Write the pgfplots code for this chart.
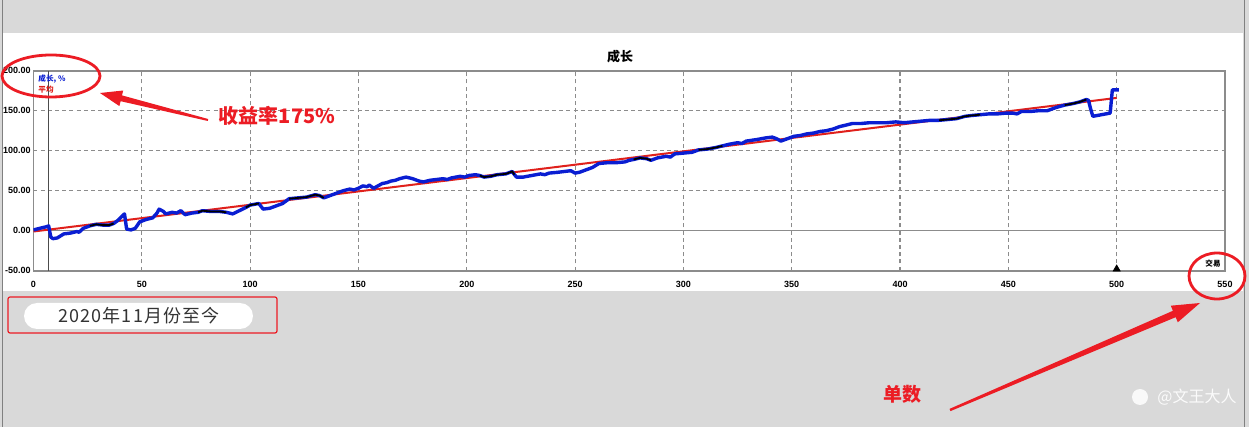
\documentclass[border=0pt]{standalone}
\usepackage{pgfplots}
\pgfplotsset{compat=1.18}
\usepackage{fontspec}
\setmainfont{Liberation Sans}
\newfontfamily\cjk{Noto Sans CJK SC}
\definecolor{bggray}{HTML}{D9D9D9}
\definecolor{lineblue}{HTML}{0A1ED2}
\definecolor{linered}{HTML}{E0201B}
\definecolor{annred}{HTML}{EC1C24}
\definecolor{gridgray}{HTML}{8C8C8C}
\begin{document}
\begin{tikzpicture}
\path[use as bounding box, fill=bggray] (0pt,0pt) rectangle (624.5pt,-213.5pt);
\fill[white] (1.5pt,-16.5pt) rectangle (621.5pt,-145.5pt);
\draw[gray, line width=0.5pt] (1.25pt,0pt) -- (1.25pt,-213.5pt);
\draw[gray, line width=0.5pt] (622.25pt,0pt) -- (622.25pt,-213.5pt);
\begin{axis}[
  at={(16.75pt,-135.35pt)}, anchor=south west,
  scale only axis, width=595.75pt, height=100pt,
  xmin=0, xmax=550, ymin=-50, ymax=200,
  xtick={0,50,...,550}, ytick={-50,0,...,200},
  grid=major,
  major grid style={gridgray, line width=0.55pt, dash pattern=on 2pt off 1.6pt},
  axis line style={gridgray, line width=0.9pt},
  major tick length=0pt,
  tick label style={font=\bfseries\fontsize{4.5}{5}\selectfont},
  /pgf/number format/assume math mode=true,
  yticklabel={\pgfmathprintnumber[fixed,fixed zerofill,precision=2]{\tick}},
  xticklabel={\pgfmathprintnumber[fixed,precision=0]{\tick}},
  yticklabel style={xshift=0.3pt, inner xsep=1.5pt},
  xticklabel style={yshift=-1.5pt},
  clip mode=individual,
]
\addplot[gridgray, line width=0.6pt] coordinates {(0,0) (550,0)};
\addplot[black!70, line width=0.75pt] coordinates {(7,-50) (7,200)};
\addplot[linered, line width=1pt] coordinates {(0,-1) (500,166)};
\addplot[lineblue, line width=1.7pt, line join=round] table {
x y
0 1
3 3
6 5
7 6
8 -8
9 -10
11 -9
14 -4
17 -3
20 -1
21 -2
23 3
26 6
29 8
32 7
35 7
37 9
39 13
42 21
43 2
45 1
47 3
49 11
52 14
55 16
57 22
58 27
60 24
61 21
64 23
66 22
68 25
70 20
73 22
76 23
78 25
82 24
86 24
89 23
92 21
95 25
98 29
100 32
102 33
104 34
106 27
109 28
112 31
115 34
118 40
122 41
126 42
130 45
132 44
134 41
137 44
140 47
143 50
146 52
148 51
150 53
152 56
154 55
155 57
157 53
159 56
161 59
163 60
165 62
167 63
169 65
172 67
175 65
178 62
180 61
183 63
186 64
189 65
191 64
193 66
197 68
199 67
201 69
204 70
206 69
208 67
211 68
214 70
218 71
221 74
222 70
223 67
226 67
230 69
234 71
236 70
238 72
242 73
245 74
248 75
250 72
252 73
255 76
258 79
261 84
265 85
269 85
273 86
275 88
277 89
280 91
283 90
285 88
288 91
292 93
294 92
296 96
300 97
304 98
307 101
311 102
315 104
318 106
321 108
325 110
327 109
329 112
334 114
338 116
341 117
343 115
345 112
348 115
351 118
354 119
357 121
360 122
363 124
366 125
369 127
372 130
375 132
378 134
382 134
386 135
390 135
394 135
398 136
402 135
406 136
410 137
414 138
418 138
422 139
426 140
430 143
433 144
437 145
441 146
445 146
449 147
452 147
454 146
456 149
460 149
464 150
468 150
472 154
476 157
480 159
483 161
486 164
487 163
488 152
489 143
491 144
493 145
495 146
497 147
498 176
501 176
};
\addplot[black, line width=0.9pt] coordinates {(26,6) (29,8) (32,7) (35,7) (37,9)};
\addplot[black, line width=0.9pt] coordinates {(76,23) (78,25) (82,24) (86,24) (89,23)};
\addplot[black, line width=0.9pt] coordinates {(98,29) (100,32) (102,33) (104,34)};
\addplot[black, line width=0.9pt] coordinates {(118,40) (122,41) (126,42) (130,45) (132,44) (134,41)};
\addplot[black, line width=0.9pt] coordinates {(206,69) (208,67) (211,68) (214,70) (218,71) (221,74) (222,70)};
\addplot[black, line width=0.9pt] coordinates {(277,89) (280,91) (283,90) (285,88)};
\addplot[black, line width=0.9pt] coordinates {(307,101) (311,102) (315,104) (318,106)};
\addplot[black, line width=0.9pt] coordinates {(418,138) (422,139) (426,140) (430,143) (433,144) (437,145)};
\addplot[black, line width=0.9pt] coordinates {(476,157) (480,159) (483,161) (486,164)};
\addplot[only marks, mark=triangle*, mark size=2pt, black] coordinates {(500,-48)};
\end{axis}
\begin{scope}[x=0.5pt, y=-0.5pt]
\node[font=\cjk\bfseries\fontsize{6.5}{7}\selectfont] at (620,57) {成长};
\node[font=\cjk\bfseries\fontsize{3.8}{4}\selectfont, text=lineblue, anchor=west, inner sep=0] at (38,79) {成长, \%};
\node[font=\cjk\bfseries\fontsize{3.8}{4}\selectfont, text=linered, anchor=west, inner sep=0] at (38,90) {平均};
\node[font=\cjk\bfseries\fontsize{3.8}{4}\selectfont, anchor=center, inner sep=0] at (1213,264) {交易};
% annotations
\draw[annred, line width=1.4pt] (51,76) ellipse [x radius=24.5pt, y radius=10.5pt];
\fill[annred] (208.24,119.03) -- (122.0,95.4) -- (123.2,90.5) -- (100,93) -- (119.4,106.1) -- (120.6,101.2) -- (207.76,120.97) -- cycle;
\node[font=\cjk\bfseries\fontsize{10}{11}\selectfont, text=annred, inner sep=0] at (277,116) {收益率175\%};
\draw[annred, line width=1.4pt] (1217,276) ellipse [x radius=14pt, y radius=11.5pt];
\fill[annred] (950.5,411.1) -- (1175.7,317.2) -- (1177.8,322.3) -- (1200,303) -- (1170.8,305.7) -- (1172.9,310.8) -- (949.5,408.9) -- cycle;
\node[font=\cjk\bfseries\fontsize{9.5}{10}\selectfont, text=annred, inner sep=0] at (902,394) {单数};
\draw[annred, line width=0.6pt, rounded corners=1pt] (8,297) rectangle (277,333);
\fill[white, rounded corners=6.5pt] (24,303) rectangle (253,329);
\node[font=\cjk\fontsize{9}{10}\selectfont, text=black!80, inner sep=0] at (139,316) {\addfontfeatures{LetterSpace=6}2020年11月份至今};
\fill[white, opacity=0.85] (1140,397) circle[radius=4pt];
\node[font=\cjk\fontsize{8}{9}\selectfont, text=white, opacity=0.9, anchor=west, inner sep=0] at (1157,397) {@文王大人};
\end{scope}
\end{tikzpicture}
\end{document}
